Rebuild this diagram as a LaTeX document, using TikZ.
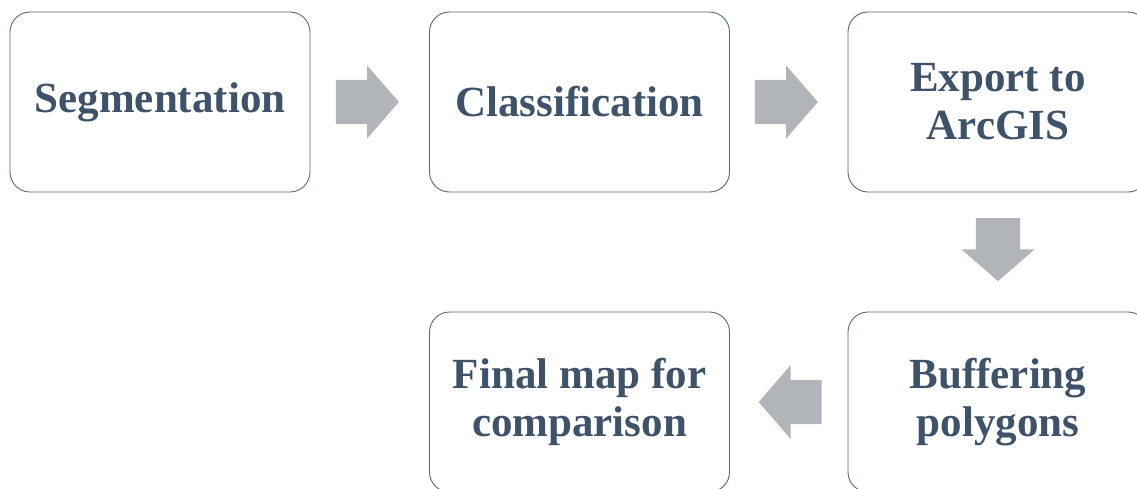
\documentclass[tikz,border=0pt]{standalone}
\usepackage{fontspec}
\setmainfont{Liberation Serif}
\usetikzlibrary{shapes.arrows,calc}
\definecolor{boxline}{RGB}{84,102,122}
\definecolor{boxtext}{RGB}{62,82,106}
\definecolor{arrowgray}{RGB}{177,181,186}
\tikzset{%
    stage/.style={%
        rectangle,
        draw=boxline,
        line width=0.9pt,
        rounded corners=20pt,
        minimum width=300pt,
        minimum height=180pt,
        align=center,
        text=boxtext,
        font=\fontsize{43}{48}\selectfont\bfseries
    },
    flowarrow/.style={%
        single arrow,
        fill=arrowgray,
        draw=none,
        inner sep=0pt,
        text height=44pt,
        minimum height=63pt,
        single arrow head extend=14.5pt,
        single arrow tip angle=98
    }
}

\begin{document}
\begin{tikzpicture}[x=1pt,y=-1pt]
    \useasboundingbox (0,0) rectangle (1137,488);
    \node[stage] (seg) at (160,102) {Segmentation};
    \node[stage] (cls) at (579.5,102) {Classification};
    \node[stage] (exp) at (998,102) {Export to\\ArcGIS};
    \node[stage] (buf) at (998,402) {Buffering\\polygons};
    \node[stage] (fin) at (579.5,402) {Final map for\\comparison};
    % block arrows between the stages
    \node[flowarrow] (a1) at ($(seg.east)!0.5!(cls.west)+(-12,0)$) {};
    \node[flowarrow] (a2) at ($(cls.east)!0.5!(exp.west)+(-12,0)$) {};
    \node[flowarrow,rotate=-90] (a3) at ($(exp.south)!0.5!(buf.north)+(0,-12)$) {};
    \node[flowarrow,rotate=180] (a4) at ($(buf.west)!0.5!(fin.east)+(11,0)$) {};
\end{tikzpicture}
\end{document}
